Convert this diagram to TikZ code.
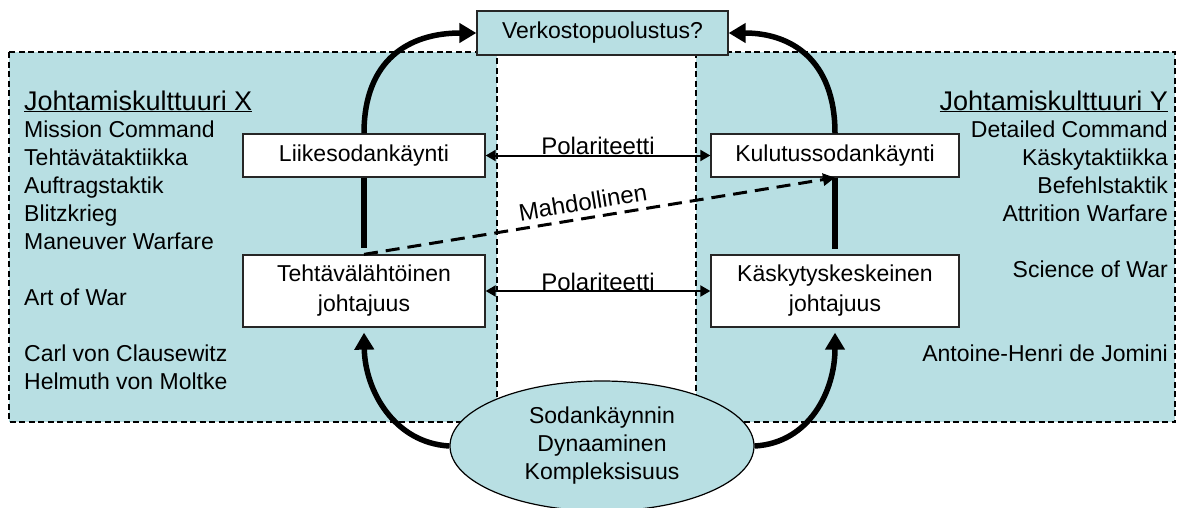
\documentclass[tikz,border=0pt]{standalone}
\usepackage{fontspec}
\setmainfont{Liberation Sans}
\usetikzlibrary{arrows.meta,shapes.geometric}
\definecolor{paleteal}{RGB}{184,223,227}
\begin{document}
\begin{tikzpicture}[x=1pt,y=-1pt,
  region/.style={draw=black, fill=paleteal, line width=1.3pt, dash pattern=on 6pt off 3.5pt},
  txt/.style={inner sep=0pt, font=\fontsize{23}{28}\selectfont},
  title/.style={inner sep=0pt, font=\fontsize{27}{32}\selectfont},
  box/.style={draw=black!85, fill=white, line width=1.3pt, inner sep=0pt, align=center,
    font=\fontsize{23}{30}\selectfont},
  topbox/.style={box, fill=paleteal, minimum width=251pt, minimum height=44pt},
  bigarrow/.style={line width=5.5pt, -{Triangle[length=17pt,width=19pt]}},
  thickline/.style={line width=5.5pt},
  polarrow/.style={line width=2pt, {Triangle[length=10pt,width=11pt]}-{Triangle[length=10pt,width=11pt]}},
  dasharrow/.style={line width=3pt, dash pattern=on 14pt off 8pt, -{Triangle[length=12pt,width=12pt]}},
  edgelabel/.style={inner sep=0pt, font=\fontsize{24}{28}\selectfont}
]
\useasboundingbox (0,0) rectangle (1181,507);

% the two shaded culture areas
\draw[region] (9,52) rectangle (497,422);
\draw[region] (696,52) rectangle (1175,422);

% left column
\node[title, anchor=base west] (titleX) at (24,110) {\underline{Johtamiskulttuuri X}};
\foreach \t/\yy [count=\i] in {Mission Command/137, Tehtävätaktiikka/165, Auftragstaktik/193,
    Blitzkrieg/221, Maneuver Warfare/249, Art of War/305, Carl von Clausewitz/361,
    Helmuth von Moltke/389}
  \node[txt, anchor=base west] (left\i) at (24,\yy) {\t};

% right column
\node[title, anchor=base east] (titleY) at (1168,110) {\underline{Johtamiskulttuuri Y}};
\foreach \t/\yy [count=\i] in {Detailed Command/137, Käskytaktiikka/165, Befehlstaktik/193,
    Attrition Warfare/221, Science of War/277, Antoine-Henri de Jomini/361}
  \node[txt, anchor=base east] (right\i) at (1168,\yy) {\t};

% boxes
\node[topbox] (top) at (602.5,33) {Verkostopuolustus?};
\node[box, minimum width=242pt, minimum height=43pt] (liike) at (364,155.5) {Liikesodankäynti};
\node[box, minimum width=248pt, minimum height=43pt] (kulutus) at (835,155.5) {Kulutussodankäynti};
\node[box, minimum width=242pt, minimum height=72pt] (tehtava) at (364,291) {Tehtävälähtöinen\\johtajuus};
\node[box, minimum width=248pt, minimum height=72pt] (kasky) at (835,291) {Käskytyskeskeinen\\johtajuus};
\node[ellipse, draw=black, fill=paleteal, line width=1.2pt, minimum width=304pt, minimum height=130pt,
  inner sep=0pt, align=center, font=\fontsize{23}{28}\selectfont] (dyn) at (602,446)
  {Sodankäynnin\\Dynaaminen\\Kompleksisuus};

% polarity arrows
\draw[polarrow] (liike.east) -- (kulutus.west)
  node[edgelabel, pos=0.5, anchor=base, yshift=1pt] (pol1) {Polariteetti};
\draw[polarrow] (tehtava.east) -- (kasky.west)
  node[edgelabel, pos=0.5, anchor=base, yshift=1pt] (pol2) {Polariteetti};

% possible link
\draw[dasharrow] (tehtava.north) -- (kulutus.south)
  node[edgelabel, pos=0.47, sloped, above, inner sep=6pt] (maybe) {Mahdollinen};

% vertical links
\draw[thickline] (liike.south) -- ([yshift=6pt]tehtava.north);
\draw[thickline] (kulutus.south) -- ([yshift=5pt]kasky.north);

% arcs up to the top box
\draw[bigarrow] (liike.north) .. controls ([yshift=74pt]liike.north) and ([xshift=-67pt]top.west) .. (top.west);
\draw[bigarrow] (kulutus.north) .. controls ([yshift=74pt]kulutus.north) and ([xshift=62pt]top.east) .. (top.east);

% arcs up from the ellipse
\draw[bigarrow] (dyn.west) .. controls ([xshift=-55pt,yshift=3pt]dyn.west) and ([xshift=1pt,yshift=-63pt]tehtava.south) .. ([yshift=-5pt]tehtava.south);
\draw[bigarrow] (dyn.east) .. controls ([xshift=55pt,yshift=3pt]dyn.east) and ([yshift=-63pt]kasky.south) .. ([yshift=-5pt]kasky.south);
\end{tikzpicture}
\end{document}
